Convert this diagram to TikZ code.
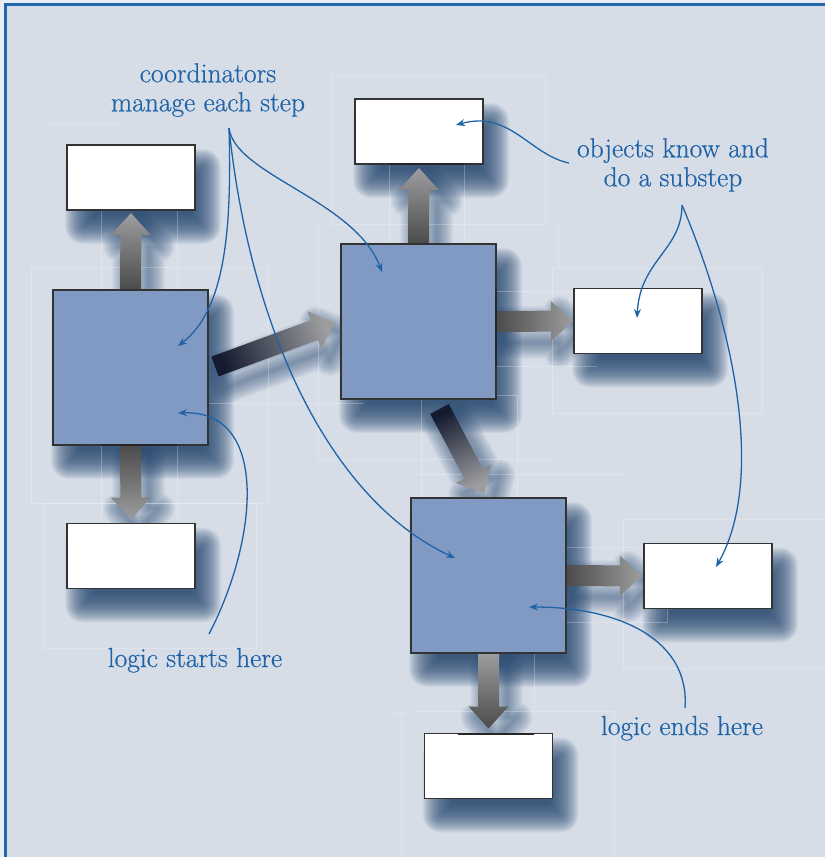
\documentclass[tikz,border=0pt]{standalone}
\usepackage{fontspec}
\usetikzlibrary{calc,arrows.meta}
\newfontfamily\notefont{Latin Modern Roman}[FakeBold=0.5]
\definecolor{bgc}{HTML}{D6DDE7}
\definecolor{edgeblue}{HTML}{2366AC}
\definecolor{txtblue}{HTML}{1F63A7}
\definecolor{boxblue}{HTML}{819AC3}
\definecolor{boxline}{HTML}{333333}
\definecolor{shadowc}{HTML}{284A72}
\definecolor{navy}{HTML}{141B30}
\definecolor{gdark}{HTML}{4B4B4B}
\definecolor{glight}{HTML}{9D9D9F}
\pgfdeclarelayer{bgl}\pgfdeclarelayer{shl}\pgfdeclarelayer{gdl}\pgfdeclarelayer{arl}
\pgfsetlayers{bgl,shl,gdl,arl,main}
\tikzset{
 bluebox/.style={draw=boxline,line width=1.2pt,fill=boxblue,minimum width=155pt,minimum height=155pt,inner sep=0pt,outer sep=0pt},
 whitebox/.style={draw=boxline,line width=1.2pt,fill=white,minimum width=128pt,minimum height=65pt,inner sep=0pt,outer sep=0pt},
 note/.style={text=txtblue,font=\notefont\fontsize{27.5}{29}\selectfont,inner sep=0pt,align=center},
 callout/.style={draw=txtblue,line width=1.3pt,-{Stealth[length=9pt,width=7pt]}},
 guide/.style={draw=white,opacity=0.25,line width=0.7pt},
 stub/.style={draw=black!85,line width=2.6pt},
}
\newcommand\boxshadow[1]{%
 \foreach \e in {-12,...,18}{\pgfmathsetmacro\rc{max(\e,0.5)}%
  \fill[shadowc,opacity=0.06,rounded corners=\rc pt] ($(#1.north west)+(16-\e,22-\e)$) rectangle ($(#1.south east)+(8+\e,16+\e)$);
 }}
\newcommand\fatarrow[4]{%
 \path (#2) coordinate (fa-h) (#1) coordinate (fa-t) ($(fa-h)!22pt!(fa-t)$) coordinate (fa-b);
 \path let \p1=($(fa-h)-(fa-t)$) in \pgfextra{\pgfmathsetmacro\faang{atan2(\y1,\x1)+90}\global\let\faang\faang};
 \path ($(fa-t)!10.5pt!90:(fa-h)$) coordinate (fa-1)
   ($(fa-b)!10.5pt!-90:(fa-t)$) coordinate (fa-2)
   ($(fa-b)!20pt!-90:(fa-t)$) coordinate (fa-3)
   ($(fa-b)!20pt!90:(fa-t)$) coordinate (fa-5)
   ($(fa-b)!10.5pt!90:(fa-t)$) coordinate (fa-6)
   ($(fa-t)!10.5pt!-90:(fa-h)$) coordinate (fa-7);
 \begin{pgfonlayer}{shl}
 \foreach \e in {1,...,16}{\pgfmathsetmacro\lw{2*\e}
  \draw[shadowc,opacity=0.04,line width=\lw pt,line join=round] ($(fa-1)+(8,11)$) -- ($(fa-2)+(8,11)$) -- ($(fa-3)+(8,11)$) -- ($(fa-h)+(8,11)$) -- ($(fa-5)+(8,11)$) -- ($(fa-6)+(8,11)$) -- ($(fa-7)+(8,11)$) -- cycle;}
 \end{pgfonlayer}
 \begin{pgfonlayer}{arl}
 \shade[top color=#3,bottom color=#4,shading angle=\faang] (fa-1) -- (fa-2) -- (fa-3) -- (fa-h) -- (fa-5) -- (fa-6) -- (fa-7) -- cycle;
 \end{pgfonlayer}
}
\begin{document}
\begin{tikzpicture}[x=1pt,y=-1pt]
\useasboundingbox (0,0) rectangle (825,857);
\begin{pgfonlayer}{bgl}
\fill[bgc] (0,0) rectangle (825,857);
\fill[bgc!55!white] (0,0) rectangle (825,3.2);
\fill[bgc!55!white] (0,0) rectangle (4.2,857);
\draw[edgeblue,line width=2.6pt] (5.5,857) -- (5.5,4.5) -- (825,4.5);
\end{pgfonlayer}

% boxes
\node[bluebox] (A) at (130.5,367.5) {};
\node[bluebox] (B) at (418.5,321.5) {};
\node[bluebox] (C) at (488.5,575.5) {};
\node[whitebox] (W1) at (131,177.5) {};
\node[whitebox] (W2) at (419,131.5) {};
\node[whitebox] (W3) at (638,321) {};
\node[whitebox] (W4) at (131,556) {};
\node[whitebox] (W5) at (708,576) {};
\node[whitebox] (W6) at (488.5,766) {};

\begin{pgfonlayer}{shl}
\boxshadow{A}\boxshadow{B}\boxshadow{C}
\boxshadow{W1}\boxshadow{W2}\boxshadow{W3}\boxshadow{W4}\boxshadow{W5}\boxshadow{W6}
\end{pgfonlayer}

\begin{pgfonlayer}{gdl}
\draw[guide] (43,123) -- (120,123);
\draw[guide] (101,210) -- (101,290) (177,210) -- (177,290);
\draw[guide] (31,267) rectangle (268,503);
\draw[guide] (318,222) -- (318,459) -- (557,459);
\draw[guide] (331,75) rectangle (545,224);
\draw[guide] (389,164) -- (389,244) (464,164) -- (464,244);
\draw[guide] (208,403) -- (363,403);
\draw[guide] (101,445) -- (101,524) (177,445) -- (177,524);
\draw[guide] (43,503) rectangle (256,648);
\draw[guide] (497,291) -- (574,291) (497,366) -- (597,366);
\draw[guide] (552,268) rectangle (762,413);
\draw[guide] (558,222) -- (558,268);
\draw[guide] (421,399) -- (421,498) (412,395) -- (517,395) -- (517,498);
\draw[guide] (412,474) -- (626,474);
\draw[guide] (623,519) -- (825,519) (623,519) -- (623,668) -- (825,668);
\draw[guide] (557,547) rectangle (667,622);
\draw[guide] (534,653) -- (534,711) (412,711) -- (614,711) -- (614,857);
\draw[guide] (401,712) -- (401,857) (387,713) -- (412,713);
\end{pgfonlayer}

% fat arrows
\coordinate (a1h) at ($(W1.south)+(0,3)$);
\coordinate (a2h) at ($(W4.north)+(0,-4)$);
\coordinate (a3t) at (215,366.5);
\coordinate (a3h) at (335,322.5);
\coordinate (a4h) at ($(W2.south)+(0,4)$);
\coordinate (a5h) at ($(W3.west)+(-1,0)$);
\coordinate (a6t) at (439.5,409);
\coordinate (a6h) at (484,493);
\coordinate (a7h) at ($(W5.west)+(-2,0)$);
\coordinate (a8h) at ($(W6.north)+(0,-5)$);
\fatarrow{A.north}{a1h}{gdark}{glight}
\fatarrow{A.south}{a2h}{gdark}{glight}
\fatarrow{a3t}{a3h}{navy}{glight}
\fatarrow{B.north}{a4h}{gdark}{glight}
\fatarrow{B.east}{a5h}{gdark}{glight}
\fatarrow{a6t}{a6h}{navy}{glight}
\fatarrow{C.east}{a7h}{gdark}{glight}
\fatarrow{C.south}{a8h}{glight}{gdark}

% dark edge stubs
\draw[stub] (101,445) -- (177,445);
\draw[stub] (496,290) -- (496,366);
\draw[stub] (458,734) -- (534,734);
\draw[stub] (389,164) -- (464,164);

% labels
\node[note,anchor=north] (coord) at (208,63) {coordinators\\manage each step};
\node[note,anchor=north] (objs) at (673,138) {objects know and\\do a substep};
\node[note,anchor=base] (lstart) at (195,667) {logic starts here};
\node[note,anchor=base] (lend) at (682,735) {logic ends here};

% callout curves
\coordinate (cs) at (229,128);
\coordinate (os) at (569,163);
\coordinate (ot) at (682,205);
\coordinate (ls) at (209,634);
\coordinate (le) at (685,708);
\coordinate (tA1) at (178,346);
\coordinate (tA2) at (178,413);
\coordinate (tB) at (382,272);
\coordinate (tC1) at (455,558);
\coordinate (tC2) at (529,607);
\coordinate (tW2) at (456,125);
\coordinate (tW3) at (637,318);
\coordinate (tW5) at (716,567);
\draw[callout] (cs) .. controls (232,230) and (225,310) .. (tA1);
\draw[callout] (cs) .. controls (235,175) and (355,200) .. (tB);
\draw[callout] (cs) .. controls (250,330) and (330,500) .. (tC1);
\draw[callout] (os) .. controls (530,155) and (510,110) .. (tW2);
\draw[callout] (ot) .. controls (682,250) and (640,260) .. (tW3);
\draw[callout] (ot) .. controls (735,330) and (765,480) .. (tW5);
\draw[callout] (ls) .. controls (258,540) and (270,410) .. (tA2);
\draw[callout] (le) .. controls (690,640) and (620,607) .. (tC2);
\end{tikzpicture}
\end{document}
